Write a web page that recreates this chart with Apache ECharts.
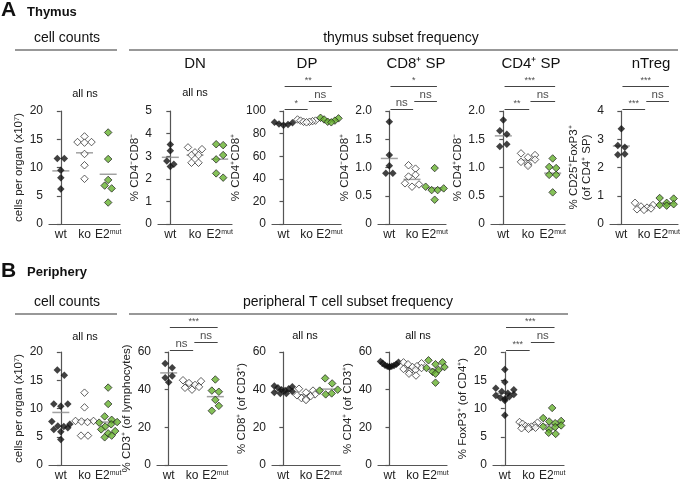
<!DOCTYPE html>
<html><head><meta charset="utf-8">
<script src="https://cdn.jsdelivr.net/npm/echarts@6/dist/echarts.min.js"></script>
<style>html,body{margin:0;padding:0;background:#fff}#c{width:685px;height:482px}</style>
</head><body><div id="c"></div>
<script>
// ---------- DATA ----------
const groups = ['wt', 'ko', 'E2mut'];

// A – Thymus
const thyCountWt = [11.6, 11.6, 9.5, 8.2, 6.2];
const thyCountKo = [15.5, 14.5, 14.4, 14.5, 12.4, 10.4, 8.0];
const thyCountE2 = [16.2, 11.5, 7.8, 6.8, 6.3, 3.8];
const thyCountMean = [9.4, 12.6, 8.8];

const dnWt = [3.52, 3.24, 2.79, 2.64, 2.54];
const dnKo = [3.39, 3.31, 3.17, 3.05, 3.05, 2.71, 2.71];
const dnE2 = [3.53, 3.49, 3.05, 2.86, 2.24, 2.05];
const dnMean = [2.95, 3.05, 2.87];

const dpWt = [90, 89.5, 88.5, 88, 87.5];
const dpKo = [92.5, 91.5, 91.5, 91, 90.5, 90.5, 90];
const dpE2 = [94, 93.5, 92.5, 91.5, 90.5, 90];
const dpMean = [88.9, 91.1, 91.8];

const cd8spWt = [1.81, 1.22, 1.03, 0.9, 0.9];
const cd8spKo = [1.04, 0.98, 0.87, 0.84, 0.72, 0.70, 0.66];
const cd8spE2 = [0.99, 0.66, 0.63, 0.6, 0.6, 0.43];
const cd8spMean = [1.16, 0.79, 0.64];

const cd4spWt = [1.84, 1.65, 1.59, 1.41, 1.37];
const cd4spKo = [1.25, 1.22, 1.18, 1.14, 1.1, 1.06, 1.03];
const cd4spE2 = [1.16, 1.01, 0.99, 0.87, 0.87, 0.56];
const cd4spMean = [1.56, 1.13, 0.9];

const tregWt = [3.37, 2.78, 2.72, 2.48, 2.45];
const tregKo = [0.75, 0.67, 0.62, 0.58, 0.55, 0.52, 0.5];
const tregE2 = [0.92, 0.9, 0.75, 0.7, 0.67, 0.65];
const tregMean = [2.76, 0.59, 0.73];

// B – Periphery
const perCountWt = [16.8, 15.9, 10.8, 10.8, 10.4, 7.7, 7.2, 6.9, 6.8, 6.6, 6.3, 5.9, 4.5];
const perCountKo = [12.8, 10.2, 7.8, 7.8, 7.7, 7.6, 5.2, 5.2];
const perCountE2 = [13.7, 10.8, 8.6, 8.0, 7.6, 7.5, 7.2, 6.8, 6.3, 6.0, 5.6, 5.2, 4.9];
const perCountMean = [9.3, 7.9, 7.6];

const cd3Wt = [53.9, 51.6, 47.2, 46.3, 43.9];
const cd3Ko = [45, 44.5, 43.5, 42.5, 41.5, 41, 40];
const cd3E2 = [45.4, 39.5, 38.9, 34.6, 31.4, 28.8];
const cd3Mean = [48.9, 42.5, 36.3];

const cd8Wt = [42, 41.5, 41, 40.5, 40, 39.5, 39, 38.5, 38, 38];
const cd8Ko = [40.5, 39.5, 38.5, 37.5, 37, 36.5, 35.5, 35, 34.5];
const cd8E2 = [46, 43.3, 40, 39.5, 38, 37.5];
const cd8Mean = [39.2, 37.3, 40.3];

const cd4Wt = [55, 54.5, 54, 53.5, 53, 52.8, 52.5, 52.2, 52, 52.5];
const cd4Ko = [54.5, 54, 53.5, 52.5, 52, 51.5, 51, 50.5, 49.5, 48.5, 47.5];
const cd4E2 = [55.6, 54.5, 53.5, 52, 51.5, 50.5, 49.5, 48.5, 43.7];
const cd4Mean = [52.6, 51.5, 50.9];

const foxWt = [16.9, 14.7, 13.6, 13.3, 13.0, 12.7, 12.5, 12.3, 12.1, 11.9, 11.7, 11.4, 8.8];
const foxKo = [7.6, 7.5, 7.3, 7.0, 6.9, 6.8, 6.7, 6.6, 6.5, 6.4];
const foxE2 = [10.1, 8.3, 7.8, 7.7, 7.4, 7.0, 6.8, 6.7, 6.3, 5.7, 5.5];
const foxMean = [12.7, 6.8, 7.1];

// significance labels: [wt vs E2mut, wt vs ko, ko vs E2mut]
const sigDP = ['**', '*', 'ns'];
const sigCD8sp = ['*', 'ns', 'ns'];
const sigCD4sp = ['***', '**', 'ns'];
const sigTreg = ['***', '***', 'ns'];
const sigCD3 = ['***', 'ns', 'ns'];
const sigFox = ['***', '***', 'ns'];

// ---------- LAYOUT / STYLE ----------
const FONT = '"Liberation Sans", Arial, Helvetica, sans-serif';
const PH = 113;
const T1 = 111, T2 = 352;
const panels = [
  {left: 49, top: T1, width: 71, max: 20, interval: 5, name: 'cells per organ (x10\u2077)', gap: 23, g: [thyCountWt, thyCountKo, thyCountE2], m: thyCountMean},
  {left: 158, top: T1, width: 74, max: 5, interval: 1, name: '% CD4\u207BCD8\u207B', gap: 17, g: [dnWt, dnKo, dnE2], m: dnMean},
  {left: 272, top: T1, width: 69, max: 100, interval: 20, name: '% CD4\u207ACD8\u207A', gap: 23, g: [dpWt, dpKo, dpE2], m: dpMean, sig: sigDP},
  {left: 378, top: T1, width: 68, max: 2, interval: 0.5, dec: 1, name: '% CD4\u207BCD8\u207A', gap: 20, g: [cd8spWt, cd8spKo, cd8spE2], m: cd8spMean, sig: sigCD8sp},
  {left: 491, top: T1, width: 74, max: 2, interval: 0.5, dec: 1, name: '% CD4\u207ACD8\u207B', gap: 18, g: [cd4spWt, cd4spKo, cd4spE2], m: cd4spMean, sig: sigCD4sp},
  {left: 610, top: T1, width: 68, max: 4, interval: 1, name: '% CD25\u207AFoxP3\u207A\n(of CD4\u207A SP)', gap: 12, g: [tregWt, tregKo, tregE2], m: tregMean, sig: sigTreg},
  {left: 49, top: T2, width: 71, max: 20, interval: 5, name: 'cells per organ (x10\u2077)', gap: 23, g: [perCountWt, perCountKo, perCountE2], m: perCountMean},
  {left: 157, top: T2, width: 70, max: 60, interval: 20, name: '% CD3\u207A (of lymphocytes)', gap: 19, g: [cd3Wt, cd3Ko, cd3E2], m: cd3Mean, sig: sigCD3},
  {left: 272, top: T2, width: 68, max: 60, interval: 20, name: '% CD8\u207A (of CD3\u207A)', gap: 24, g: [cd8Wt, cd8Ko, cd8E2], m: cd8Mean},
  {left: 378, top: T2, width: 69, max: 60, interval: 20, name: '% CD4\u207A (of CD3\u207A)', gap: 22, g: [cd4Wt, cd4Ko, cd4E2], m: cd4Mean},
  {left: 493, top: T2, width: 71, max: 20, interval: 5, name: '% FoxP3\u207A (of CD4\u207A)', gap: 20, g: [foxWt, foxKo, foxE2], m: foxMean, sig: sigFox}
];
const fills = ['#111111', '#ffffff', '#66b22e'];
const borders = ['#111111', '#222222', '#1a1a1a'];
const sigLayout = [{x0: 0.05, x1: 2.1, px: 24.5}, {x0: 0.05, x1: 1.05, px: 1.5}, {x0: 1.1, x1: 2.1, px: 9.5}];

// Prism-like row layout: points of similar value share a row, centred symmetrically
function swarm(vals, pxPerVal, pxPerCat) {
  const BIN = 5.5, STEP = 7, MAXW = 18;
  const idx = vals.map((v, i) => i).sort((a, b) => vals[b] - vals[a]);
  const rows = [];
  let cur = null;
  idx.forEach(i => {
    if (cur && (vals[cur[0]] - vals[i]) * pxPerVal < BIN) cur.push(i);
    else { cur = [i]; rows.push(cur); }
  });
  const out = [];
  let flip = 1;
  rows.forEach(r => {
    const n = r.length;
    if (n === 1) { out[r[0]] = 0; return; }
    const step = Math.min(STEP, MAXW / (n - 1));
    // order inside row: alternate so neighbouring values land on opposite sides
    const slots = r.map((_, k) => (k - (n - 1) / 2) * step);
    const order = [];
    let lo = 0, hi = n - 1;
    for (let k = 0; k < n; k++) order.push(k % 2 === 0 ? (flip > 0 ? lo++ : hi--) : (flip > 0 ? hi-- : lo++));
    r.forEach((pi, k) => { out[pi] = slots[order[k]] / pxPerCat; });
    flip = -flip;
  });
  return out;
}

const grid = [], xAxis = [], yAxis = [], series = [];
panels.forEach((p, i) => {
  grid.push({left: p.left, top: p.top, width: p.width, height: PH, containLabel: false});
  xAxis.push({
    type: 'category', gridIndex: i, data: groups, boundaryGap: true,
    axisLine: {lineStyle: {color: '#555', width: 1.2}},
    axisTick: {alignWithLabel: true, length: 4, lineStyle: {color: '#555', width: 1.2}},
    axisLabel: {interval: 0, hideOverlap: false, margin: 5,
      formatter: v => v === 'E2mut' ? '{n|E2}{s|mut}' : '{n|' + v + '}',
      rich: {n: {fontSize: 12, fontFamily: FONT, color: '#222'}, s: {fontSize: 7, fontFamily: FONT, color: '#222', verticalAlign: 'top'}}}
  });
  xAxis.push({type: 'value', gridIndex: i, min: -0.5, max: 2.5, show: false});
  yAxis.push({
    type: 'value', gridIndex: i, min: 0, max: p.max, interval: p.interval,
    name: p.name, nameLocation: 'middle', nameGap: p.gap, nameRotate: 90,
    nameTextStyle: {fontSize: 11.5, fontFamily: FONT, color: '#222', lineHeight: 13},
    axisLine: {show: true, lineStyle: {color: '#555', width: 1.2}},
    axisTick: {show: true, length: 4, lineStyle: {color: '#555', width: 1.2}},
    axisLabel: {margin: 6, fontSize: 12, fontFamily: FONT, color: '#222',
      formatter: v => (v === 0 ? '0' : (p.dec ? v.toFixed(p.dec) : String(v)))},
    splitLine: {show: false}
  });
  const pxPerVal = PH / p.max, pxPerCat = p.width / 3;
  // mean lines
  series.push({type: 'scatter', xAxisIndex: 2 * i + 1, yAxisIndex: i, symbol: 'rect', symbolSize: [17, 1.5],
    itemStyle: {color: '#8a8a8a'}, z: 2, silent: true, data: p.m.map((m, gi) => [gi, m])});
  p.g.forEach((vals, gi) => {
    const offs = swarm(vals, pxPerVal, pxPerCat);
    series.push({type: 'scatter', xAxisIndex: 2 * i + 1, yAxisIndex: i, symbol: 'diamond', symbolSize: 7.5,
      itemStyle: {color: fills[gi], borderColor: borders[gi], borderWidth: gi === 0 ? 0 : 0.9}, z: 3, silent: true,
      data: vals.map((v, k) => [gi + offs[k], v])});
  });
  if (p.sig) {
    p.sig.forEach((txt, si) => {
      const L = sigLayout[si];
      const yl = p.max * (1 + L.px / PH);
      series.push({type: 'line', xAxisIndex: 2 * i + 1, yAxisIndex: i, symbol: 'none', clip: false, silent: true,
        lineStyle: {color: '#444', width: 1}, data: [[L.x0, yl], [L.x1, yl]]});
      series.push({type: 'scatter', xAxisIndex: 2 * i + 1, yAxisIndex: i, symbolSize: 1, clip: false, silent: true,
        itemStyle: {color: 'rgba(0,0,0,0)'},
        label: {show: true, position: 'top', distance: txt === 'ns' ? 0 : 1, formatter: txt,
          fontSize: txt === 'ns' ? 11.5 : 9, fontFamily: FONT, color: '#222'},
        data: [[(L.x0 + L.x1) / 2, yl]]});
    });
  }
});

function txt(x, y, text, size, bold, align) {
  return {type: 'text', x: x, y: y, silent: true,
    style: {text: text, fill: '#111', font: (bold ? 'bold ' : '') + size + 'px ' + FONT,
      textAlign: align || 'center', textVerticalAlign: 'middle'}};
}
function hline(x1, x2, y) {
  return {type: 'line', silent: true, shape: {x1: x1, y1: y, x2: x2, y2: y}, style: {stroke: '#333', lineWidth: 1.2}};
}
const graphic = [
  txt(1, 10, 'A', 21, true, 'left'), txt(27, 12, 'Thymus', 13, true, 'left'),
  txt(67, 38, 'cell counts', 14), hline(15, 117, 50),
  txt(401, 38, 'thymus subset frequency', 14), hline(129, 678, 50),
  txt(195, 64, 'DN', 15), txt(307, 64, 'DP', 15), txt(416, 64, 'CD8\u207A SP', 15),
  txt(531, 64, 'CD4\u207A SP', 15), txt(651, 64, 'nTreg', 15),
  txt(85, 94, 'all ns', 11), txt(195, 93, 'all ns', 11),
  txt(1, 271, 'B', 21, true, 'left'), txt(27, 272, 'Periphery', 13, true, 'left'),
  txt(67, 302, 'cell counts', 14), hline(15, 117, 314),
  txt(348, 302, 'peripheral T cell subset frequency', 14), hline(129, 568, 314),
  txt(85, 337, 'all ns', 11), txt(305, 336, 'all ns', 11), txt(418, 336, 'all ns', 11)
];

const chart = echarts.init(document.getElementById('c'), null, {renderer: 'canvas'});
chart.setOption({animation: false, backgroundColor: '#fff', grid, xAxis, yAxis, series, graphic});
</script></body></html>
